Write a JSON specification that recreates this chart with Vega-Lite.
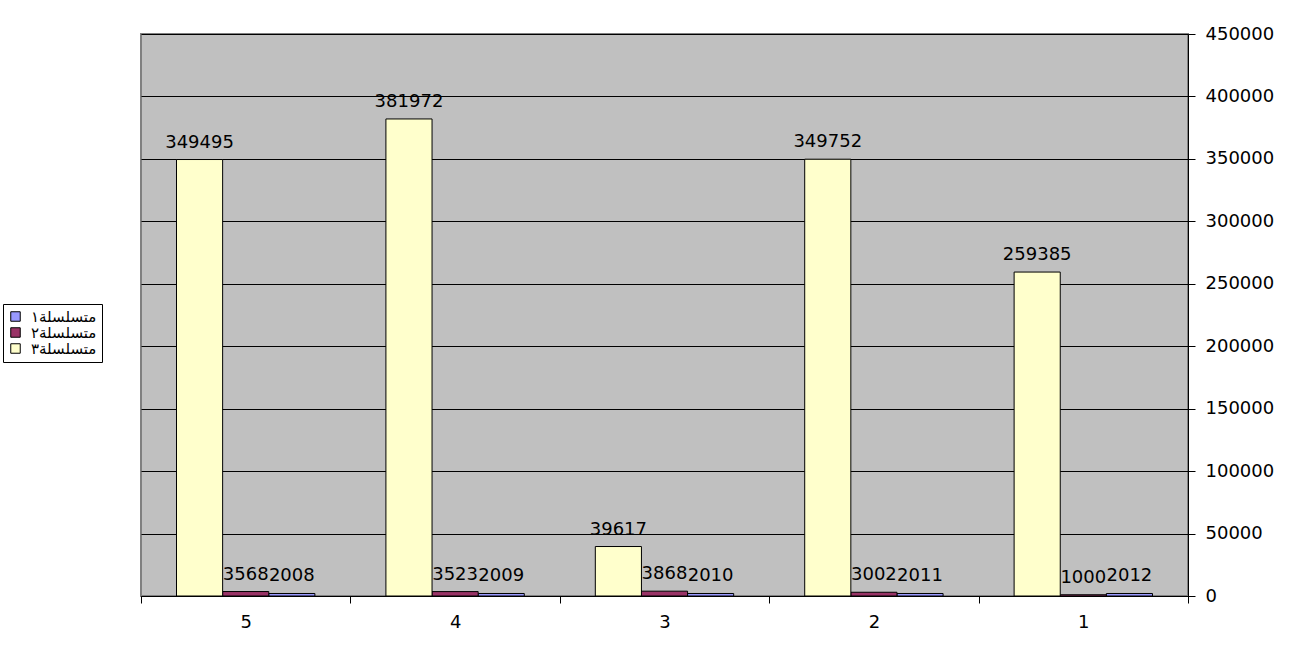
{
  "$schema": "https://vega.github.io/schema/vega-lite/v6.json",
  "width": 1047,
  "height": 562,
  "autosize": {"type": "none"},
  "padding": {"left": 141, "top": 34, "right": 123, "bottom": 52},
  "background": "white",
  "config": {
    "view": {"fill": "#C0C0C0", "stroke": "#808080", "strokeWidth": 2},
    "font": "DejaVu Sans"
  },
  "data": {
    "values": [
      {"category": "5", "series": "متسلسلة١", "value": 2008},
      {"category": "5", "series": "متسلسلة٢", "value": 3568},
      {"category": "5", "series": "متسلسلة٣", "value": 349495},
      {"category": "4", "series": "متسلسلة١", "value": 2009},
      {"category": "4", "series": "متسلسلة٢", "value": 3523},
      {"category": "4", "series": "متسلسلة٣", "value": 381972},
      {"category": "3", "series": "متسلسلة١", "value": 2010},
      {"category": "3", "series": "متسلسلة٢", "value": 3868},
      {"category": "3", "series": "متسلسلة٣", "value": 39617},
      {"category": "2", "series": "متسلسلة١", "value": 2011},
      {"category": "2", "series": "متسلسلة٢", "value": 3002},
      {"category": "2", "series": "متسلسلة٣", "value": 349752},
      {"category": "1", "series": "متسلسلة١", "value": 2012},
      {"category": "1", "series": "متسلسلة٢", "value": 1000},
      {"category": "1", "series": "متسلسلة٣", "value": 259385}
    ]
  },
  "encoding": {
    "x": {
      "field": "category",
      "type": "nominal",
      "sort": ["5", "4", "3", "2", "1"],
      "scale": {"paddingInner": 0, "paddingOuter": 0},
      "axis": {
        "title": null,
        "orient": "bottom",
        "labelAngle": 0,
        "tickBand": "extent",
        "domainColor": "black",
        "domainWidth": 1,
        "tickColor": "black",
        "tickSize": 7,
        "labelPadding": 10,
        "labelFontSize": 18,
        "labelColor": "black",
        "labelFont": "DejaVu Sans",
        "grid": false
      }
    },
    "xOffset": {
      "field": "series",
      "type": "nominal",
      "sort": ["متسلسلة٣", "متسلسلة٢", "متسلسلة١"],
      "scale": {"paddingInner": 0, "paddingOuter": 0.77}
    },
    "y": {
      "field": "value",
      "type": "quantitative",
      "scale": {"domain": [0, 450000], "nice": false},
      "axis": {
        "title": null,
        "orient": "right",
        "values": [0, 50000, 100000, 150000, 200000, 250000, 300000, 350000, 400000, 450000],
        "format": "d",
        "grid": true,
        "gridColor": "black",
        "gridWidth": 1,
        "gridOpacity": 1,
        "domainColor": "black",
        "domainWidth": 1,
        "tickColor": "black",
        "tickSize": 7,
        "labelPadding": 10,
        "labelFontSize": 18,
        "labelColor": "black",
        "labelFont": "DejaVu Sans"
      }
    }
  },
  "layer": [
    {
      "mark": {"type": "bar", "stroke": "black", "strokeWidth": 1},
      "encoding": {
        "color": {
          "field": "series",
          "type": "nominal",
          "scale": {
            "domain": ["متسلسلة١", "متسلسلة٢", "متسلسلة٣"],
            "range": ["#9999FF", "#993366", "#FFFFCC"]
          },
          "legend": {
            "title": null,
            "orient": "none",
            "legendX": -138,
            "legendY": 270,
            "padding": 5,
            "strokeColor": "black",
            "fillColor": "white",
            "symbolType": "square",
            "symbolSize": 90,
            "symbolStrokeColor": "black",
            "symbolStrokeWidth": 1,
            "symbolOpacity": 1,
            "labelFont": "DejaVu Sans",
            "labelFontSize": 15,
            "labelOffset": 8,
            "labelColor": "black",
            "labelLimit": 200,
            "rowPadding": 0
          }
        }
      }
    },
    {
      "mark": {"type": "text", "dy": -12, "baseline": "alphabetic", "fontSize": 18, "font": "DejaVu Sans", "color": "black"},
      "encoding": {
        "text": {"field": "value", "type": "quantitative", "format": "d"}
      }
    }
  ]
}
